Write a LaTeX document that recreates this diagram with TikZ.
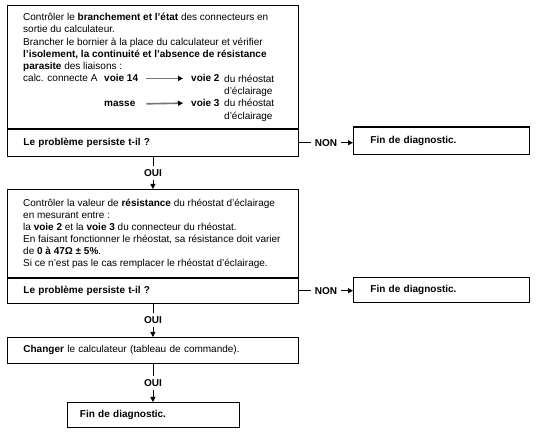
\documentclass[tikz,border=0pt]{standalone}
\usepackage{fontspec}
\setmainfont{Liberation Sans}
\usetikzlibrary{arrows.meta,positioning}

\begin{document}
\begin{tikzpicture}[x=1pt, y=1pt, font=\fontsize{10}{12.3}\selectfont,
    boite/.style={draw, rectangle, anchor=north west, line width=0.8pt, inner ysep=0pt, inner xsep=16pt, text width=259pt, align=left},
    texte/.style={inner sep=0pt, align=left},
    gras/.style={texte, font=\fontsize{10}{12.3}\selectfont\bfseries},
    fleche/.style={-{Triangle[length=5pt,width=5pt]}, line width=0.8pt},
    liaison/.style={-{Triangle[length=5pt,width=5pt,black]}, draw=black!55, line width=1.6pt, shorten <=8pt, shorten >=8pt},
    etiq/.style={fill=white, inner xsep=4pt, inner ysep=3.5pt, font=\fontsize{10}{12.3}\selectfont\bfseries}]
    \useasboundingbox (0,0) rectangle (536,436);

    \node (ctrl1) [boite, minimum height=123pt] at (7,431) {};
    \node (q1) [boite, minimum height=27pt, below=0pt of ctrl1] {\textbf{Le problème persiste t-il ?}};
    \node (t1) [texte, anchor=north west] at (23,423) {Contrôler le \textbf{branchement et l'état} des connecteurs en\\
        sortie du calculateur.\\
        Brancher le bornier à la place du calculateur et vérifier\\
        \textbf{l'isolement, la continuité et l'absence de résistance}\\
        \textbf{parasite} des liaisons :};
    \node (calc) [texte, anchor=base west] at (23,354) {calc. connecte A};
    \node (v14) [gras, anchor=base west] at (104,354) {voie 14};
    \node (v2) [gras, anchor=base west] at (191,354) {voie 2};
    \node (rh2) [texte, anchor=north west] at (224,361.4) {du rhéostat\\d'éclairage};
    \node (masse) [gras, anchor=base west] at (104,329.4) {masse};
    \node (v3) [gras, anchor=base west] at (191,329.4) {voie 3};
    \node (rh3) [texte, anchor=north west] at (224,336.8) {du rhéostat\\d'éclairage};
    \draw[liaison] (v14.east) -- (v2.west);
    \draw[liaison] (v14.east |- masse.east) -- (v3.west);

    \node (fin1) [boite, minimum height=27pt, inner xsep=17pt, text width=142pt] at (353,309) {\textbf{Fin de diagnostic.}};
    \draw[line width=2pt] (fin1.north west) -- (fin1.north east);
    \draw[fleche] (q1.east) -- node[etiq] {NON} (q1.east -| fin1.west);

    \node (ctrl2) [boite, minimum height=88pt] at (7,247) {};
    \node (t2) [texte, anchor=north west, font=\fontsize{10}{11.9}\selectfont] at (23,237) {Contrôler la valeur de \textbf{résistance} du rhéostat d'éclairage\\
        en mesurant entre :\\
        la \textbf{voie 2} et la \textbf{voie 3} du connecteur du rhéostat.\\
        En faisant fonctionner le rhéostat, sa résistance doit varier\\
        de \textbf{0 à 47Ω ± 5\%}.\\
        Si ce n'est pas le cas remplacer le rhéostat d'éclairage.};
    \node (q2) [boite, minimum height=25pt, below=0pt of ctrl2] {\textbf{Le problème persiste t-il ?}};
    \draw[fleche] (q1.south) -- node[etiq] {OUI} (ctrl2.north);

    \node (fin2) [boite, minimum height=25pt, inner xsep=17pt, text width=142pt] at (353,159) {\textbf{Fin de diagnostic.}};
    \draw[fleche] (q2.east) -- node[etiq] {NON} (q2.east -| fin2.west);

    \node (chg) [boite, minimum height=26pt] at (7,99) {\textbf{Changer} le calculateur (tableau de commande).};
    \draw[fleche] (q2.south) -- node[etiq] {OUI} (chg.north);

    \node (fin3) [boite, minimum height=25pt, inner xsep=13pt, text width=146pt] at (66.5,34) {\textbf{Fin de diagnostic.}};
    \draw[fleche] (chg.south) -- node[etiq] {OUI} (fin3.north);
\end{tikzpicture}
\end{document}
